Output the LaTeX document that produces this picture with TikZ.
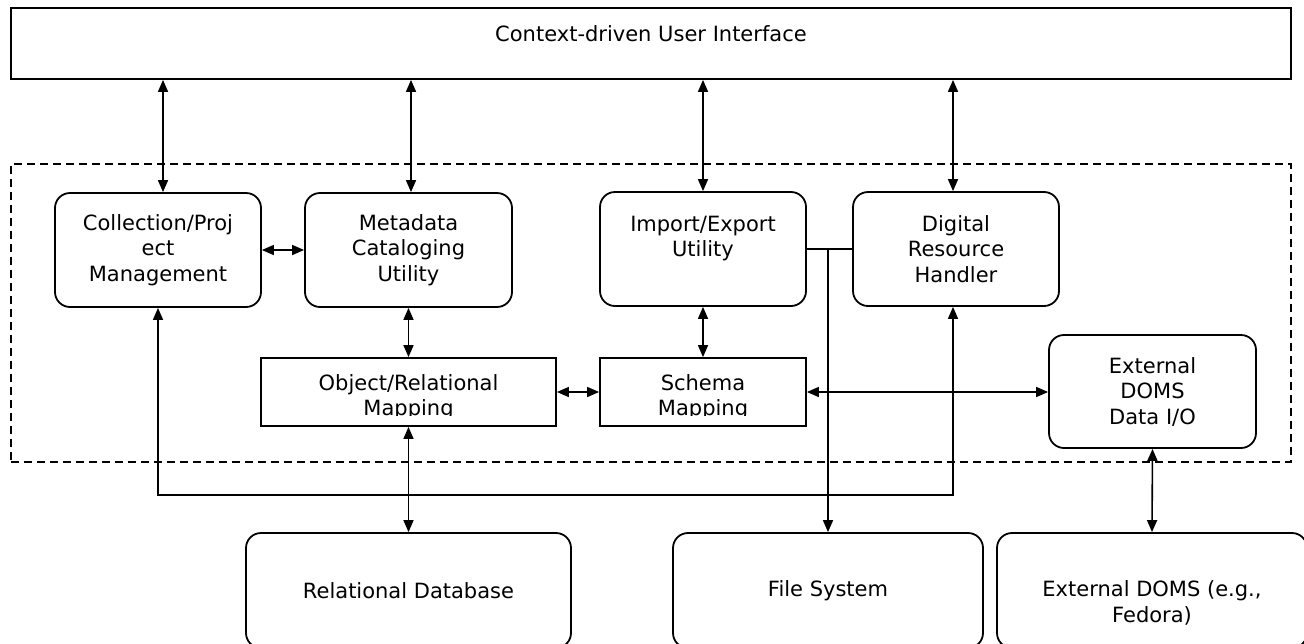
\documentclass[tikz,border=0pt]{standalone}
\usepackage{fontspec}
\setmainfont{DejaVu Sans}
\usetikzlibrary{arrows.meta}
\begin{document}
\begin{tikzpicture}[x=1pt,y=-1pt,
  lbl/.style={align=center, font=\fontsize{21}{25.5}\selectfont, inner sep=0pt},
  box/.style={lbl, draw, line width=1.8pt, rounded corners=15pt, fill=white},
  sqbox/.style={draw, line width=1.8pt, inner sep=0pt, fill=white},
  group/.style={draw, line width=1.6pt, dash pattern=on 8pt off 5pt, inner sep=0pt},
  conn/.style={line width=1.6pt},
  dbl/.style={conn, {Triangle[length=12pt,width=10pt]}-{Triangle[length=12pt,width=10pt]}},
  sgl/.style={conn, -{Triangle[length=12pt,width=10pt]}}]
\useasboundingbox (0,0) rectangle (1304,643);
\clip (0,0) rectangle (1304,643);

% group and top bar
\node[group, minimum width=1280pt, minimum height=298pt] (core) at (651,313) {};
\node[sqbox, minimum width=1280pt, minimum height=71pt] (ui) at (651,43.5) {};
\node[lbl] (uit) at (651,34) {Context-driven User Interface};

% upper modules
\node[box, minimum width=206pt, minimum height=114pt] (col) at (158,250) {Collection/Proj\\ect\\Management};
\node[box, minimum width=207pt, minimum height=114pt] (meta) at (408.5,250) {Metadata\\Cataloging\\Utility};
\node[box, minimum width=206pt, minimum height=114pt] (imp) at (703,249) {Import/Export\\Utility\\\mbox{}};
\node[box, minimum width=206pt, minimum height=114pt] (dig) at (956,249) {Digital\\Resource\\Handler};

% mapping boxes
\node[sqbox, minimum width=295pt, minimum height=68pt] (orm) at (408.5,392) {};
\node[sqbox, minimum width=206pt, minimum height=68pt] (sch) at (703,392) {};
\begin{scope}
  \clip (261,358) rectangle (556,415);
  \node[lbl] (ormt) at (408.5,397) {Object/Relational\\Mapping};
\end{scope}
\begin{scope}
  \clip (600,358) rectangle (806,415);
  \node[lbl] (scht) at (703,397) {Schema\\Mapping};
\end{scope}

\node[box, minimum width=207pt, minimum height=113pt] (extio) at (1152.5,391.5) {External\\DOMS\\Data I/O};

% bottom stores
\node[box, minimum width=325pt, minimum height=115pt] (rdb) at (408.5,590.5) {Relational Database};
\node[box, minimum width=310pt, minimum height=115pt] (fs) at (828,590.5) {File System};
\node[box, minimum width=310pt, minimum height=115pt] (extdoms) at (1152,590.5) {};
\node[lbl] (extdomst) at (1152,603) {External DOMS (e.g.,\\Fedora)};

% connectors from UI
\draw[dbl] ([xshift=5pt]ui.south -| col.north) -- ([xshift=5pt]col.north);
\draw[dbl] ([xshift=2.5pt]ui.south -| meta.north) -- ([xshift=2.5pt]meta.north);
\draw[dbl] (ui.south -| imp.north) -- (imp.north);
\draw[dbl] ([xshift=-3pt]ui.south -| dig.north) -- ([xshift=-3pt]dig.north);

% inner connectors
\draw[dbl] (col.east) -- (meta.west);
\draw[dbl] (meta.south) -- (orm.north);
\draw[dbl] (imp.south) -- (sch.north);
\draw[dbl] (orm.east) -- (sch.west);
\draw[dbl] (sch.east) -- (sch.east -| extio.west);
\draw[conn] (imp.east) -- (dig.west);
\draw[sgl] (fs.north |- imp.east) -- (fs.north);

% bus
\coordinate (bus) at (0,495);
\draw[dbl] (col.south) -- (col.south |- bus) -- ([xshift=-3pt]dig.south |- bus) -- ([xshift=-3pt]dig.south);

\draw[dbl] (orm.south) -- (rdb.north);
\draw[dbl] (extio.south) -- (extdoms.north);
\end{tikzpicture}
\end{document}
